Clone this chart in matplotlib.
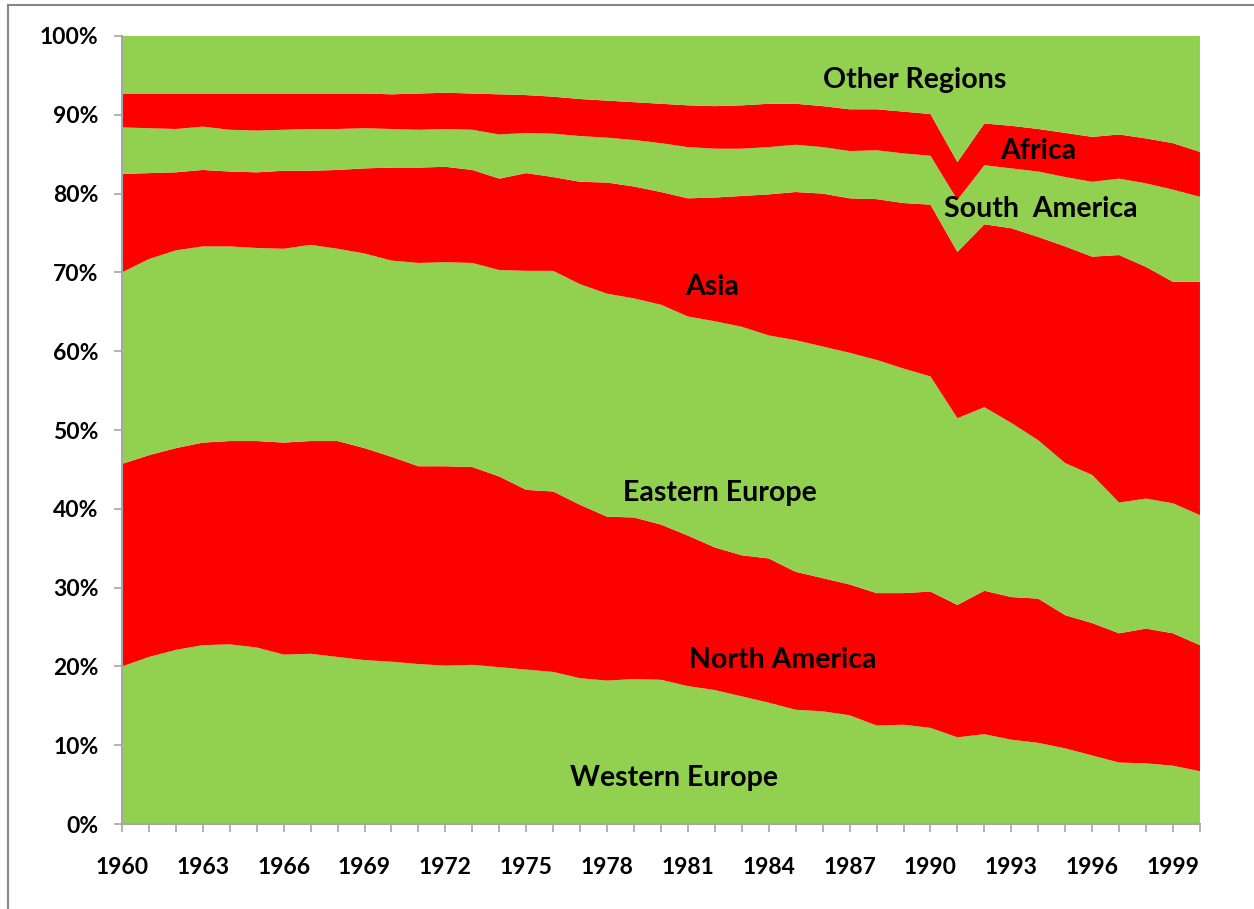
import numpy as np
import matplotlib
matplotlib.use("Agg")
import matplotlib.pyplot as plt
from matplotlib.lines import Line2D

plt.rcParams['font.family'] = ['Lato', 'DejaVu Sans']

years = list(range(1960, 2001))

# cumulative top of each band, in %
west_top = [20.0, 21.2, 22.1, 22.7, 22.8, 22.4, 21.5, 21.6, 21.2, 20.8,
            20.6, 20.3, 20.1, 20.2, 19.9, 19.6, 19.3, 18.5, 18.2, 18.4,
            18.3, 17.5, 17.0, 16.2, 15.4, 14.5, 14.3, 13.8, 12.5, 12.6,
            12.2, 11.0, 11.4, 10.7, 10.3, 9.6, 8.7, 7.8, 7.7, 7.4, 6.7]
na_top = [45.7, 46.8, 47.7, 48.4, 48.6, 48.6, 48.4, 48.6, 48.6, 47.7,
          46.6, 45.4, 45.4, 45.3, 44.1, 42.4, 42.2, 40.5, 39.0, 38.9,
          38.0, 36.6, 35.1, 34.1, 33.7, 32.0, 31.2, 30.4, 29.3, 29.3,
          29.5, 27.8, 29.6, 28.8, 28.6, 26.5, 25.5, 24.2, 24.8, 24.2, 22.7]
ee_top = [70.0, 71.7, 72.8, 73.3, 73.3, 73.1, 73.0, 73.5, 73.0, 72.4,
          71.5, 71.2, 71.3, 71.2, 70.3, 70.2, 70.2, 68.5, 67.3, 66.7,
          65.9, 64.4, 63.8, 63.1, 62.0, 61.4, 60.6, 59.8, 58.9, 57.8,
          56.8, 51.5, 52.9, 50.9, 48.7, 45.8, 44.3, 40.8, 41.3, 40.7, 39.2]
asia_top = [82.5, 82.6, 82.7, 83.0, 82.8, 82.7, 82.9, 82.9, 83.0, 83.2,
            83.3, 83.3, 83.4, 83.0, 81.9, 82.6, 82.1, 81.5, 81.4, 80.9,
            80.2, 79.4, 79.5, 79.7, 79.9, 80.2, 80.0, 79.4, 79.3, 78.8,
            78.6, 72.6, 76.1, 75.6, 74.5, 73.3, 72.0, 72.2, 70.7, 68.8, 68.8]
sa_top = [88.4, 88.3, 88.2, 88.5, 88.1, 88.0, 88.1, 88.2, 88.2, 88.3,
          88.2, 88.1, 88.2, 88.1, 87.5, 87.7, 87.6, 87.3, 87.1, 86.8,
          86.4, 85.9, 85.7, 85.7, 85.9, 86.2, 85.9, 85.4, 85.5, 85.1,
          84.8, 79.2, 83.6, 83.2, 82.8, 82.1, 81.5, 81.9, 81.3, 80.5, 79.6]
africa_top = [92.7, 92.7, 92.7, 92.7, 92.7, 92.7, 92.7, 92.7, 92.7, 92.7,
              92.6, 92.7, 92.8, 92.7, 92.6, 92.5, 92.3, 92.0, 91.8, 91.6,
              91.4, 91.2, 91.1, 91.2, 91.4, 91.4, 91.1, 90.7, 90.7, 90.4,
              90.1, 84.0, 88.9, 88.6, 88.2, 87.7, 87.2, 87.5, 87.0, 86.4, 85.3]

regions = ['Western Europe', 'North America', 'Eastern Europe', 'Asia',
           'South  America', 'Africa', 'Other Regions']
green = '#92D050'
red = '#FF0000'
colors = [green, red, green, red, green, red, green]

# label positions (year, %)
label_x = [1980.5, 1984.5, 1982.2, 1981.9, 1994.1, 1994.0, 1989.4]
label_y = [5.9, 20.8, 42.0, 68.1, 78.0, 85.4, 94.4]

tops = np.array([np.zeros(41), west_top, na_top, ee_top, asia_top, sa_top,
                 africa_top, np.full(41, 100.0)])
shares = np.diff(tops, axis=0)

fig = plt.figure(figsize=(12.54, 9.09), dpi=100)
ax = fig.add_axes([0.0973, 0.0935, 0.8596, 0.8669])
ax.stackplot(years, shares, colors=colors, linewidth=0)

ax.set_xlim(1960, 2000)
ax.set_ylim(0, 100)
ax.set_yticks(range(0, 101, 10))
ax.set_yticklabels([f'{v}%' for v in range(0, 101, 10)])
ax.set_xticks(years, minor=True)
ax.set_xticks(years[::3])
ax.set_xticklabels([str(y) for y in years[::3]])

for s in ['top', 'right']:
    ax.spines[s].set_visible(False)
for s in ['left', 'bottom']:
    ax.spines[s].set_color('#A6A6A6')
    ax.spines[s].set_linewidth(1.5)
    ax.spines[s].set_zorder(5)

ax.tick_params(axis='y', direction='out', length=6, width=1.2, color='#A6A6A6',
               pad=11, labelsize=16.5)
ax.tick_params(axis='x', which='both', direction='out', length=6, width=1.2,
               color='#A6A6A6', pad=18, labelsize=16.5)
for lab in ax.get_xticklabels() + ax.get_yticklabels():
    lab.set_fontweight('bold')

for name, x, y in zip(regions, label_x, label_y):
    ax.text(x, y, name, ha='center', va='center', fontsize=20.5,
            fontweight='bold', color='black')

# chart area frame
fig.add_artist(Line2D([8 / 1254, 8 / 1254], [0, 1 - 5 / 909],
                      transform=fig.transFigure, color='#868686', lw=1.5))
fig.add_artist(Line2D([8 / 1254, 1], [1 - 5 / 909, 1 - 5 / 909],
                      transform=fig.transFigure, color='#868686', lw=1.5))

fig.savefig('out.png', dpi=100)
